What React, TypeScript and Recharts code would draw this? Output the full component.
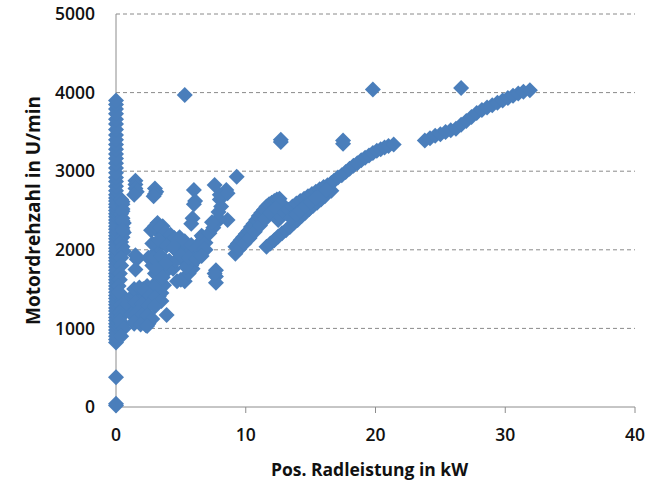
import React from "react";
import { ScatterChart, Scatter, XAxis, YAxis, ReferenceLine } from "recharts";

const zeroRpm = [20, 40, 380, 820, 860, 900, 940, 980, 1020, 1060, 1100, 1140, 1180, 1220, 1260, 1300, 1340, 1380, 1420, 1460, 1500, 1540, 1580, 1620, 1660, 1700, 1740, 1780, 1820, 1860, 1900, 1940, 1980, 2020, 2060, 2100, 2140, 2180, 2220, 2260, 2300, 2340, 2380, 2420, 2460, 2500, 2540, 2580, 2620, 2660, 2700, 2750, 2810, 2870, 2920, 2980, 3040, 3100, 3160, 3220, 3280, 3340, 3400, 3460, 3530, 3600, 3660, 3730, 3790, 3850, 3900];
const nearZeroKw = [0.4, 0.5, 0.5, 0.4, 0.5, 0.6, 0.5, 0.6, 0.5, 0.4, 0.5, 0.6, 0.6, 0.5, 0.4, 0.5, 0.3, 0.4, 0.3, 0.5, 0.6, 0.4, 0.5, 0.5, 0.5, 0.5, 0.4, 0.4, 0.3, 0.3, 0.2, 0.2];
const nearZeroRpm = [2640, 2580, 2520, 2460, 2400, 2340, 2280, 2220, 2160, 2100, 2040, 1980, 1400, 1350, 1300, 1250, 1200, 1150, 1100, 1050, 1000, 900, 2610, 2490, 2370, 2250, 1900, 1800, 1700, 1620, 1540, 1460];

const clusterKw = [1.5, 1.5, 1.5, 1.6, 1.4, 3.0, 3.1, 3.0, 2.9, 1.5, 1.6, 1.5, 2.5, 1.6, 1.5, 1.4, 3.9, 2.3, 2.5, 2.6, 2.4, 1.7, 2.0, 2.3, 2.2, 2.6, 3.0, 3.3, 3.5, 3.7, 3.2, 3.0, 2.8, 1.0, 1.2, 1.5, 1.8, 2.1, 2.4, 2.7, 3.0, 3.2, 3.5, 3.1, 3.4, 3.6, 3.2, 3.0, 3.3, 3.6, 3.9, 4.2, 4.5, 4.8, 3.2, 3.4, 3.7, 4.0, 4.3, 4.6, 4.9, 5.2, 5.5, 5.8, 6.1, 6.4, 6.7, 3.4, 3.7, 4.1, 4.4, 4.7, 5.0, 5.3, 5.6, 5.9, 6.2, 6.5, 6.9, 4.6, 4.9, 5.3, 5.5, 5.8, 5.2, 5.4, 5.1, 4.6, 5.4, 5.6, 5.9, 6.1, 6.4, 6.6, 6.9, 7.2, 7.5, 7.7, 7.9];
const clusterRpm = [2880, 2830, 2780, 2740, 2700, 2780, 2740, 2710, 2680, 1930, 1880, 1750, 1900, 1260, 1200, 1060, 1170, 1040, 1060, 1100, 1180, 1150, 1250, 1350, 1450, 1500, 1380, 1410, 1450, 1550, 1600, 1700, 1800, 1350, 1400, 1410, 1470, 1500, 1540, 1400, 1520, 1900, 1700, 2050, 2200, 2300, 1850, 1960, 2040, 2120, 2160, 2100, 2060, 2000, 2340, 2260, 2200, 2140, 2050, 2000, 1950, 1900, 1850, 1800, 2000, 2080, 2160, 1800, 1700, 1860, 1760, 1600, 1620, 1600, 1700, 1760, 1880, 1940, 2000, 2100, 2160, 2060, 1980, 1920, 2080, 2030, 1870, 1860, 1780, 1950, 1880, 1960, 2010, 2180, 2090, 2210, 2280, 2340, 2400];
const fillKw = [2.7, 3.0, 3.4, 3.8, 4.2, 4.5, 2.8, 3.3, 3.9, 4.4, 2.9, 3.5, 3.8, 3.1, 3.6, 1.4, 1.8, 2.2, 2.6, 3.0, 3.5, 1.5, 2.0, 2.5, 3.0, 1.2, 1.6, 2.0, 2.4, 2.8, 1.4, 1.9, 2.4, 4.8, 5.3, 5.8, 6.3, 6.8, 5.0, 5.6, 6.2, 6.6];
const fillRpm = [2250, 2300, 2280, 2220, 2190, 2150, 2080, 2120, 2050, 2030, 1900, 1920, 1830, 1760, 1650, 1500, 1520, 1480, 1420, 1390, 1350, 1330, 1310, 1290, 1280, 1180, 1200, 1170, 1160, 1120, 1080, 1050, 1030, 2120, 2110, 2060, 2040, 2010, 1930, 1900, 1880, 1920];

const midKw = [7.7, 7.7, 7.7, 7.6, 6.0, 6.1, 6.0, 5.9, 5.8, 7.6, 8.5, 8.0, 8.1, 7.9, 7.4, 8.6, 8.0, 8.6, 9.3, 5.3];
const midRpm = [1740, 1660, 1580, 1700, 2760, 2620, 2580, 2400, 2330, 2825, 2760, 2640, 2550, 2480, 2350, 2380, 2700, 2720, 2930, 3970];

const upperKw = [9.2, 9.2, 9.4, 9.6, 9.8, 10.0, 10.2, 10.4, 10.6, 10.8, 11.0, 11.2, 11.4, 11.6, 11.8, 12.0, 12.2, 12.4, 12.6, 12.7, 9.5, 9.9, 10.3, 10.7, 11.1, 11.5, 11.9, 12.3];
const upperRpm = [1950, 2040, 2080, 2120, 2160, 2200, 2240, 2290, 2330, 2380, 2430, 2470, 2510, 2550, 2580, 2600, 2620, 2640, 2650, 2600, 2010, 2080, 2150, 2230, 2310, 2390, 2470, 2530];
const lowerKw = [11.6, 11.9, 12.2, 12.5, 12.8, 13.1, 13.4, 13.7, 14.0, 14.3, 14.6, 14.9, 15.2, 15.5, 15.8, 16.1, 16.6];
const lowerRpm = [2040, 2080, 2120, 2170, 2210, 2250, 2290, 2340, 2380, 2430, 2470, 2520, 2560, 2600, 2640, 2680, 2750];
const middleKw = [12.5, 12.7, 13.0, 13.3, 13.6, 13.9, 14.2, 14.5, 14.8, 15.1, 15.4, 15.7, 16.0, 16.3, 16.6, 13.5, 13.9, 14.2, 14.6, 15.0, 15.4, 15.8, 16.2];
const middleRpm = [2380, 2420, 2470, 2510, 2550, 2590, 2620, 2650, 2680, 2710, 2740, 2770, 2800, 2820, 2850, 2400, 2450, 2500, 2560, 2610, 2660, 2710, 2760];
const riseKw = [16.8, 17.1, 17.4, 17.7, 18.0, 18.3, 18.6, 18.9, 19.2, 19.5, 19.8, 20.1, 20.4, 20.7, 21.0, 21.4, 12.7, 12.7, 17.5, 17.5, 19.8, 23.8, 24.2, 24.6, 25.0, 25.4, 25.8, 26.2, 26.6, 27.0, 27.4, 27.8, 28.2, 28.6, 29.0, 29.4, 29.8, 30.2, 30.6, 31.0, 31.4, 31.9, 26.6];
const riseRpm = [2880, 2920, 2950, 2990, 3030, 3070, 3100, 3140, 3170, 3200, 3230, 3260, 3280, 3300, 3320, 3340, 3370, 3400, 3350, 3390, 4040, 3390, 3420, 3450, 3470, 3500, 3520, 3540, 3590, 3640, 3690, 3740, 3780, 3810, 3840, 3870, 3900, 3930, 3960, 3990, 4010, 4030, 4060];

const xTicks = [0, 10, 20, 30, 40];
const yTicks = [0, 1000, 2000, 3000, 4000, 5000];
const gridRpm = [1000, 2000, 3000, 4000, 5000];

const rows = [
  ...zeroRpm.map((y) => ({ x: 0, y })),
  ...nearZeroKw.map((x, i) => ({ x, y: nearZeroRpm[i] })),
  ...clusterKw.map((x, i) => ({ x, y: clusterRpm[i] })),
  ...fillKw.map((x, i) => ({ x, y: fillRpm[i] })),
  ...midKw.map((x, i) => ({ x, y: midRpm[i] })),
  ...upperKw.map((x, i) => ({ x, y: upperRpm[i] })),
  ...lowerKw.map((x, i) => ({ x, y: lowerRpm[i] })),
  ...middleKw.map((x, i) => ({ x, y: middleRpm[i] })),
  ...riseKw.map((x, i) => ({ x, y: riseRpm[i] })),
];

const FONT = "'Open Sans', sans-serif";
const Diamond = (p: any) => {
  const r = 8;
  return <path d={`M${p.cx},${p.cy - r}L${p.cx + r},${p.cy}L${p.cx},${p.cy + r}L${p.cx - r},${p.cy}Z`} fill="#4a7ebb" />;
};

export default function App() {
  const tick = { fontSize: 17.5, fontWeight: 600, fontFamily: FONT, fill: "#111" };
  return (
    <div style={{ position: "absolute", left: 0, top: 0 }}>
      <ScatterChart width={657} height={482} margin={{ top: 14, right: 22, bottom: 0, left: 0 }}>
        {gridRpm.map((v) => (
          <ReferenceLine key={v} y={v} stroke="#8a8a8a" strokeDasharray="4 3" />
        ))}
        <XAxis
          type="number"
          dataKey="x"
          domain={[0, 40]}
          ticks={xTicks}
          height={75}
          stroke="#8c8c8c"
          tickSize={6}
          tick={{ ...tick, dy: 9 }}
          tickMargin={7}
          label={{ value: "Pos. Radleistung in kW", position: "insideBottom", offset: 0, dx: -6, dy: -6, style: { fontSize: 17.5, fontWeight: 700, fontFamily: FONT, fill: "#111" } }}
        />
        <YAxis
          type="number"
          dataKey="y"
          domain={[0, 5000]}
          ticks={yTicks}
          width={116}
          stroke="#8c8c8c"
          tickLine={false}
          tick={{ ...tick, dx: -9 }}
          tickMargin={6}
          label={{ value: "Motordrehzahl in U/min", angle: -90, position: "center", dx: -25, style: { fontSize: 19, fontWeight: 700, fontFamily: FONT, fill: "#111" } }}
        />
        <Scatter data={rows} shape={Diamond} isAnimationActive={false} />
      </ScatterChart>
    </div>
  );
}
